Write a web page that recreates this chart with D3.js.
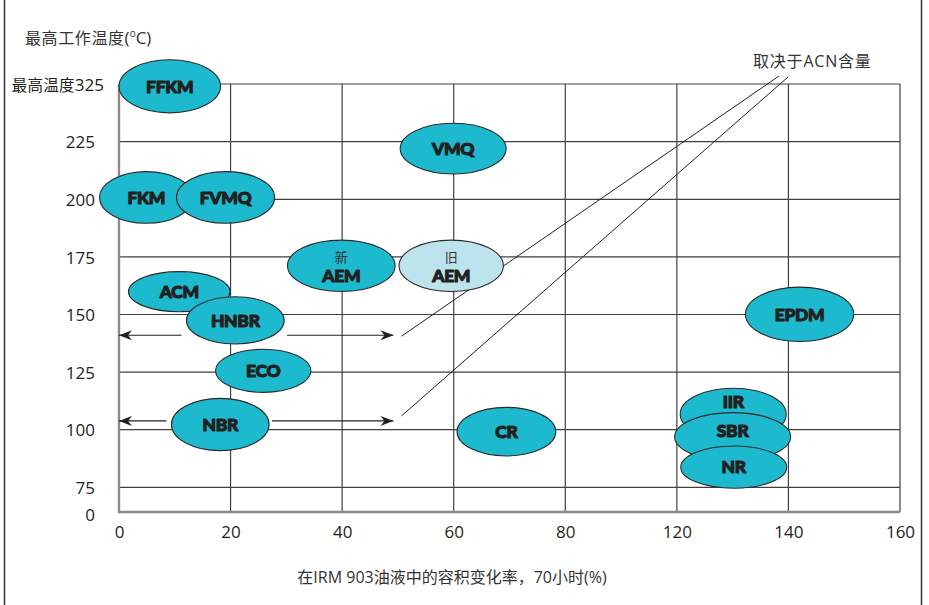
<!DOCTYPE html>
<html>
<head>
<meta charset="utf-8">
<script src="https://cdn.jsdelivr.net/npm/d3@7"></script>
<style>
  html, body { margin: 0; padding: 0; background: #fff; }
  svg { display: block; }
</style>
</head>
<body>
<svg id="chart" width="929" height="605"></svg>
<script>
// ---------------- data ----------------
const grades   = ["FFKM", "VMQ", "FKM", "FVMQ", "新 AEM", "旧 AEM", "ACM", "HNBR", "ECO", "NBR", "CR", "EPDM", "IIR", "SBR", "NR"];
// volume change in IRM 903 oil, 70 h (%) – range covered by each grade
const swellMin = [0.0, 50.4, -3.5, 10.3, 30.2, 50.2, 1.7, 12.1, 17.3, 9.4, 60.6, 132.3, 120.6, 119.2, 120.7];
const swellMax = [18.2, 69.4, 13.3, 27.9, 49.5, 68.9, 19.9, 29.6, 34.4, 26.9, 78.3, 151.7, 139.6, 140.4, 139.7];
// max working temperature (°C) – range covered by each grade
const tempMin  = [275, 211, 189.6, 189.6, 160, 160, 151.2, 137.2, 116.2, 90.9, 88.6, 138.3, 95.5, 86.4, 72];
const tempMax  = [367, 257, 212, 212, 182.3, 182.3, 168.6, 157.7, 134.9, 113.6, 109.7, 161.9, 118, 107.4, 92.9];
const legacyGrades = ["旧 AEM"];

// ACN-dependent ranges (NBR family)
const acnGrades = ["HNBR", "NBR"];
const acnTemps  = [141, 103.8];
const acnSwellEnd = 49.2;
const acnNote = "取决于ACN含量";

const xTicks = [0, 20, 40, 60, 80, 120, 140, 160];
const yTicks = [0, 75, 100, 125, 150, 175, 200, 225, 325];

const yTitle = "最高工作温度";
const xTitle = "在IRM 903油液中的容积变化率，70小时(%)";
const topTickPrefix = "最高温度";

// ---------------- layout ----------------
const svg = d3.select("#chart");
const X0 = 119, STEP = 111.57;
// categorical-style spacing: 80 → 120 takes one step
const x = d3.scaleLinear()
  .domain([0, 80, 120, 160])
  .range([X0, X0 + 4 * STEP, X0 + 5 * STEP, X0 + 7 * STEP]);
const y = d3.scaleLinear()
  .domain([0, 75, 225, 325])
  .range([512, 487.3, 141.7, 84]);

const INK = "#231f20";
const GRID = "#404040";
const FILL = "#1db9ce";
const FILL_OLD = "#bde3ec";
const LATIN = "'Open Sans', 'Noto Sans CJK SC', sans-serif";
const CJK = "'Noto Sans CJK SC', 'Open Sans', sans-serif";

// outer frame
svg.append("line").attr("x1", 4.5).attr("x2", 4.5).attr("y1", 0).attr("y2", 605)
  .attr("stroke", "#333").attr("stroke-width", 1.5);
svg.append("line").attr("x1", 921.5).attr("x2", 921.5).attr("y1", 0).attr("y2", 605)
  .attr("stroke", "#333").attr("stroke-width", 1.5);

// grid
const grid = svg.append("g");
grid.selectAll(".hg").data(yTicks.filter(d => d > 0)).join("line")
  .attr("x1", x(0)).attr("x2", x(160))
  .attr("y1", d => y(d)).attr("y2", d => y(d))
  .attr("stroke", GRID).attr("stroke-width", 1.2);
grid.selectAll(".vg").data(xTicks.filter(d => d > 0)).join("line")
  .attr("x1", d => x(d)).attr("x2", d => x(d))
  .attr("y1", y(325)).attr("y2", y(0))
  .attr("stroke", GRID).attr("stroke-width", 1.2);

// axis lines (grey)
svg.append("line").attr("x1", x(0)).attr("x2", x(0)).attr("y1", y(325)).attr("y2", y(0) + 1)
  .attr("stroke", "#8a8a8a").attr("stroke-width", 2.4);
svg.append("line").attr("x1", x(0) - 1).attr("x2", x(160)).attr("y1", y(0)).attr("y2", y(0))
  .attr("stroke", "#8a8a8a").attr("stroke-width", 2.4);

// axes (labels)
const xAxis = svg.append("g").attr("transform", "translate(0,532)")
  .call(d3.axisBottom(x).tickValues(xTicks).tickSize(0).tickPadding(0).tickFormat(d3.format("d")));
xAxis.select(".domain").remove();
xAxis.selectAll("text").attr("y", 0).attr("dy", "0.36em")
  .attr("font-family", LATIN).attr("font-size", 17).attr("fill", INK);

const yAxis = svg.append("g").attr("transform", "translate(95,0)")
  .call(d3.axisLeft(y).tickValues(yTicks).tickSize(0).tickPadding(0).tickFormat(d3.format("d")));
yAxis.select(".domain").remove();
yAxis.selectAll("text").attr("x", 0).attr("dy", "0.36em")
  .attr("font-family", LATIN).attr("font-size", 17).attr("fill", INK);
yAxis.selectAll(".tick").filter(d => d === 0).select("text").attr("dy", "0.52em");
yAxis.selectAll(".tick").filter(d => d === 325).select("text")
  .attr("x", 9)
  .text(null)
  .call(t => {
    t.append("tspan").attr("font-family", CJK).attr("font-size", 15.5).attr("letter-spacing", 0.3).text(topTickPrefix);
    t.append("tspan").text("325");
  });

// y title
const yt = svg.append("text").attr("x", 25).attr("y", 44)
  .attr("fill", "#333").attr("font-size", 16);
yt.append("tspan").attr("font-family", CJK).attr("letter-spacing", 0.6).text(yTitle);
yt.append("tspan").attr("font-family", LATIN).attr("font-size", 17).text("(");
yt.append("tspan").attr("font-family", LATIN).attr("font-size", 10).attr("dy", -7).text("o");
yt.append("tspan").attr("font-family", LATIN).attr("font-size", 17).attr("dy", 7).text("C)");

// x title
svg.append("text").attr("x", 452).attr("y", 583).attr("text-anchor", "middle")
  .attr("font-family", LATIN).attr("font-size", 16).attr("fill", "#333")
  .text(xTitle);

// arrow marker
const defs = svg.append("defs");
defs.append("marker").attr("id", "ah")
  .attr("viewBox", "0 0 13 10").attr("refX", 13).attr("refY", 5)
  .attr("markerWidth", 13).attr("markerHeight", 10)
  .attr("markerUnits", "userSpaceOnUse")
  .attr("orient", "auto-start-reverse")
  .append("path").attr("d", "M0,0 L13,5 L0,10 L4,5 Z").attr("fill", INK);

// ACN arrows
const idx = g => grades.indexOf(g);
const arrows = acnGrades.map((g, i) => ({ g, t: acnTemps[i], lo: swellMin[idx(g)], hi: swellMax[idx(g)] }));
const ar = svg.append("g");
arrows.forEach(a => {
  ar.append("line").attr("x1", x(0)).attr("x2", x(a.lo) - 5)
    .attr("y1", y(a.t)).attr("y2", y(a.t))
    .attr("stroke", INK).attr("stroke-width", 1.2).attr("marker-start", "url(#ah)");
  ar.append("line").attr("x1", x(a.hi) + 3).attr("x2", x(acnSwellEnd))
    .attr("y1", y(a.t)).attr("y2", y(a.t))
    .attr("stroke", INK).attr("stroke-width", 1.2).attr("marker-end", "url(#ah)");
});

// note and leaders
const noteX = 753, noteY = 61;
svg.append("text").attr("x", noteX).attr("y", noteY).attr("dy", "0.36em")
  .attr("font-family", LATIN).attr("font-size", 16).attr("fill", "#333").attr("letter-spacing", 0.8)
  .text(acnNote);
const leaderEnds = [[noteX + 26, noteY + 15], [noteX + 35, noteY + 16]];
arrows.forEach((a, i) => {
  ar.append("line")
    .attr("x1", x(acnSwellEnd) + 8).attr("y1", y(a.t) + (i === 0 ? 1 : -5))
    .attr("x2", leaderEnds[i][0]).attr("y2", leaderEnds[i][1])
    .attr("stroke", INK).attr("stroke-width", 1);
});

// ellipses
const items = grades.map((g, i) => {
  const x1 = x(swellMin[i]), x2 = x(swellMax[i]);
  const y1 = y(tempMax[i]), y2 = y(tempMin[i]);
  const parts = g.split(" ");
  return {
    g, cx: (x1 + x2) / 2, cy: (y1 + y2) / 2, rx: (x2 - x1) / 2, ry: (y2 - y1) / 2,
    prefix: parts.length > 1 ? parts[0] : null, name: parts[parts.length - 1],
    old: legacyGrades.includes(g)
  };
});
// label nudges for stacked ellipses (label sits in visible part)
const labelShift = { "IIR": -12.5, "SBR": -6 };

const eg = svg.append("g");
const node = eg.selectAll("g.item").data(items).join("g").attr("class", "item");
node.append("ellipse")
  .attr("cx", d => d.cx).attr("cy", d => d.cy).attr("rx", d => d.rx).attr("ry", d => d.ry)
  .attr("fill", d => d.old ? FILL_OLD : FILL).attr("stroke", "#2b2b2b").attr("stroke-width", 1.1);
node.append("text")
  .attr("x", d => d.cx)
  .attr("y", d => d.cy + (labelShift[d.name] || 0) + (d.prefix ? 9.5 : 0))
  .attr("dy", "0.36em").attr("text-anchor", "middle")
  .attr("font-family", "Lato, 'Open Sans', sans-serif").attr("font-weight", 900)
  .attr("font-size", 17.5).attr("letter-spacing", -0.3).attr("fill", INK)
  .attr("stroke", INK).attr("stroke-width", 1.1).attr("stroke-linejoin", "round")
  .text(d => d.name);
node.filter(d => d.prefix).append("text")
  .attr("x", d => d.cx).attr("y", d => d.cy - 8.5).attr("dy", "0.36em")
  .attr("text-anchor", "middle").attr("font-family", CJK).attr("font-size", 13).attr("fill", "#333")
  .text(d => d.prefix);
</script>
</body>
</html>
